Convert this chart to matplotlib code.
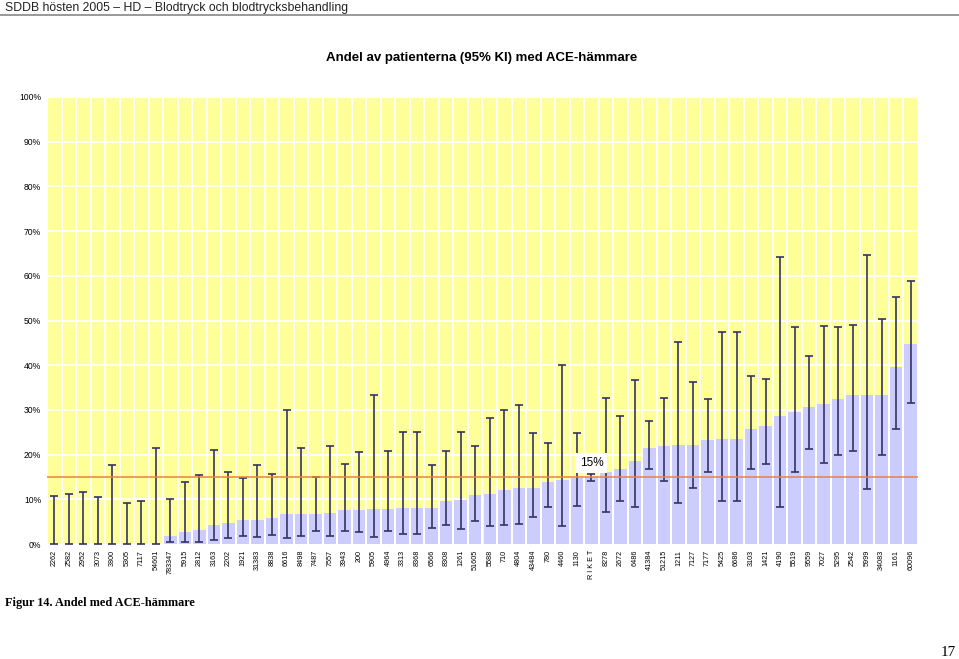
import numpy as np
import matplotlib.pyplot as plt

plt.rcParams["font.family"] = ["Liberation Sans", "DejaVu Sans"]

labels = ["2262", "2582", "2952", "3073", "3800", "5305", "7117", "54601", "783347", "5915",
          "2812", "3163", "2202", "1921", "31383", "8838", "6616", "8498", "7487", "7557",
          "3943", "200", "5905", "4964", "3313", "8368", "6566", "8308", "1261", "51605",
          "5588", "710", "4804", "43484", "780", "4460", "1130", "R I K E T", "8278", "2672",
          "6486", "41384", "51215", "1211", "7127", "7177", "5425", "6686", "3103", "1421",
          "4190", "5519", "9559", "7027", "5295", "2542", "5999", "34083", "1161", "60096"]

andel = [0, 0, 0, 0, 0, 0, 0, 0, 1.9, 2.7,
         3.1, 4.3, 4.8, 5.4, 5.4, 5.8, 6.6, 6.6, 6.7, 6.9,
         7.5, 7.6, 7.8, 7.9, 8.1, 8.1, 8.1, 9.7, 9.8, 10.9,
         11.2, 12.0, 12.5, 12.5, 13.9, 14.3, 14.8, 14.9, 16.0, 16.8,
         18.5, 21.5, 21.9, 22.1, 22.1, 23.3, 23.5, 23.5, 25.8, 26.3,
         28.6, 29.6, 30.6, 31.3, 32.4, 33.3, 33.3, 33.3, 39.5, 44.7]

ki_low = [0, 0, 0, 0, 0, 0, 0, 0, 0.4, 0.5,
          0.5, 0.8, 1.4, 1.9, 1.6, 2.1, 1.3, 1.9, 3.0, 1.9,
          3.0, 2.7, 1.5, 2.8, 2.2, 2.2, 3.6, 4.3, 3.4, 5.1,
          4.0, 4.3, 4.4, 6.0, 8.2, 4.1, 8.6, 14.1, 7.2, 9.6,
          8.3, 16.7, 14.1, 9.1, 12.6, 16.0, 9.7, 9.7, 16.8, 18.0,
          8.3, 16.0, 21.3, 18.1, 19.8, 20.7, 12.2, 19.8, 25.7, 31.5]

ki_high = [10.8, 11.1, 11.6, 10.5, 17.6, 9.2, 9.7, 21.5, 10.1, 13.9,
           15.4, 21.0, 16.0, 14.7, 17.7, 15.7, 29.9, 21.4, 15.0, 22.0,
           17.8, 20.5, 33.4, 20.9, 25.0, 25.0, 17.6, 20.7, 25.0, 21.9,
           28.1, 30.0, 31.1, 24.8, 22.7, 40.0, 24.9, 15.6, 32.7, 28.6,
           36.7, 27.6, 32.7, 45.3, 36.3, 32.5, 47.4, 47.4, 37.6, 37.0,
           64.3, 48.5, 42.1, 48.7, 48.5, 49.1, 64.7, 50.4, 55.3, 58.8]

riket_niva = 15

x = np.arange(len(labels))
andel = np.array(andel)
yerr = [andel - np.array(ki_low), np.array(ki_high) - andel]

fig = plt.figure(figsize=(9.59, 6.59), dpi=100)
ax = fig.add_axes([47 / 959, 1 - 544 / 659, 871 / 959, 447 / 659])

ax.set_facecolor("#ffff99")
ax.bar(x, andel, width=0.86, color="#ccccff", zorder=2)
ax.errorbar(x, andel, yerr=yerr, fmt="none", ecolor="#333366", elinewidth=1.2,
            capsize=3, capthick=1.2, zorder=3)
ax.axhline(riket_niva, color="#f08040", lw=1.1, zorder=4)

ri = labels.index("R I K E T")
ax.text(ri, riket_niva + 3.1, "15%", ha="center", va="center", fontsize=8.5,
        bbox=dict(facecolor="white", edgecolor="none", pad=3), zorder=5)

ax.set_xlim(-0.5, len(labels) - 0.5)
ax.set_ylim(0, 100)
ax.set_yticks(np.arange(0, 101, 10))
ax.set_yticklabels([f"{v}%" for v in range(0, 101, 10)], fontsize=6.2)
ax.set_xticks(x)
ax.set_xticklabels(labels, rotation=90, fontsize=5.2)
ax.tick_params(axis="y", length=0, pad=4.3)
ax.tick_params(axis="x", length=0, pad=4.3)

# white grid: horizontal at ticks, vertical between categories
for v in range(10, 101, 10):
    ax.axhline(v, color="white", lw=1.3, zorder=1)
for b in np.arange(-0.5, len(labels), 1.0):
    ax.axvline(b, color="white", lw=1.3, zorder=1)
for s in ax.spines.values():
    s.set_visible(False)

fig.text(5 / 959, 1 - 11 / 659, "SDDB hösten 2005 – HD – Blodtryck och blodtrycksbehandling",
         fontsize=8.8, va="baseline", ha="left", color="#222222")
fig.add_artist(plt.Line2D([0, 1], [1 - 15 / 659, 1 - 15 / 659], color="#888888", lw=1.2))
fig.text(482 / 959, 1 - 58 / 659, "Andel av patienterna (95% KI) med ACE-hämmare",
         fontsize=9.5, fontweight="bold", ha="center", va="center")
fig.text(5 / 959, 1 - 603 / 659, "Figur 14. Andel med ACE-hämmare", family="Liberation Serif",
         fontsize=8.8, fontweight="bold", ha="left", va="center")
fig.text(948 / 959, 1 - 652 / 659, "17", family="Liberation Serif", fontsize=11,
         ha="center", va="center")

fig.savefig("out.png", dpi=100)
